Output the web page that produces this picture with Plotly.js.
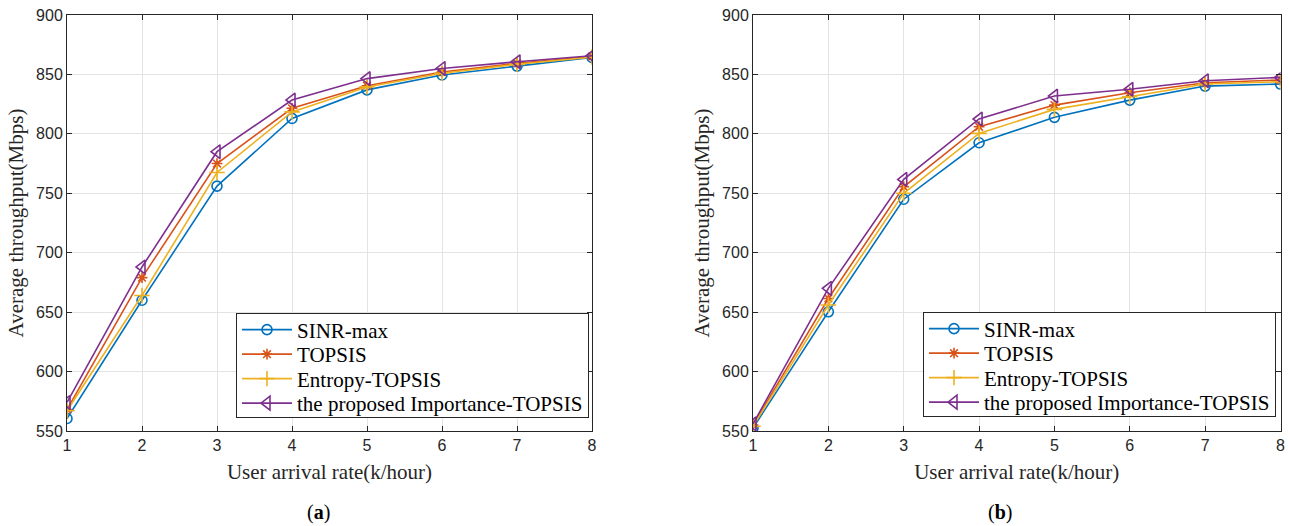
<!DOCTYPE html>
<html>
<head>
<meta charset="utf-8">
<script src="https://cdn.plot.ly/plotly-3.0.1.min.js"></script>
<style>html,body{margin:0;padding:0;background:#fff;}#chart{width:1290px;height:526px;}</style>
</head>
<body>
<div id="chart"></div>
<script>
const arrivalRate = [1, 2, 3, 4, 5, 6, 7, 8];
const seriesNames = ['SINR-max', 'TOPSIS', 'Entropy-TOPSIS', 'the proposed Importance-TOPSIS'];

// (a)
const sinrA       = [560.5, 660, 756, 813, 837, 849.5, 857, 864.3];
const topsisA     = [568, 679, 775, 821.5, 840.5, 852, 859.3, 865];
const entropyA    = [567, 664, 767.5, 818.5, 839.5, 851, 858.5, 864.6];
const importanceA = [574, 688, 785, 828.5, 846.5, 855, 860.7, 865.7];

// (b)
const sinrB       = [552.5, 650.3, 745, 792.5, 813.9, 828.4, 840.2, 841.9];
const topsisB     = [555, 661.5, 755.5, 806, 824.2, 834.6, 843, 845.3];
const entropyB    = [554, 656, 750, 800.4, 820.6, 831.2, 841.9, 843.9];
const importanceB = [556, 670, 761.7, 812.5, 831.8, 837.5, 844.7, 847.5];

const xTicks = [1, 2, 3, 4, 5, 6, 7, 8];
const yTicks = [550, 600, 650, 700, 750, 800, 850, 900];
const captions = ['(<b>a</b>)', '(<b>b</b>)'];
const xTitle = 'User arrival rate(k/hour)';
const yTitle = 'Average throughput(Mbps)';

const colors = ['#0072BD', '#D95319', '#EDB120', '#7E2F8E'];
const symbols = ['circle-open', 'asterisk-open', 'cross-thin-open', 'triangle-left-open'];
const sizes = [10, 9, 11, 12];

function mk(y, i, ax) {
  return {
    x: arrivalRate, y: y, name: seriesNames[i], type: 'scatter', mode: 'lines+markers',
    xaxis: ax === 1 ? 'x' : 'x2', yaxis: ax === 1 ? 'y' : 'y2',
    legend: ax === 1 ? 'legend' : 'legend2',
    line: {color: colors[i], width: 1.6},
    marker: {symbol: symbols[i], size: sizes[i], color: colors[i], line: {color: colors[i], width: 1.6}}
  };
}

const data = [
  mk(sinrA, 0, 1), mk(topsisA, 1, 1), mk(entropyA, 2, 1), mk(importanceA, 3, 1),
  mk(sinrB, 0, 2), mk(topsisB, 1, 2), mk(entropyB, 2, 2), mk(importanceB, 3, 2)
];

const serif = 'Liberation Serif, Times New Roman, serif';
const sans = 'Liberation Sans, Arial, sans-serif';

function xa(domain, anchor) {
  return {
    domain: domain, anchor: anchor, range: [1, 8], tickvals: xTicks, ticktext: xTicks.map(String),
    showgrid: true, gridcolor: '#e3e3e3', gridwidth: 1, zeroline: false,
    showline: true, linecolor: '#262626', linewidth: 1, mirror: 'ticks',
    ticks: 'inside', ticklen: 5, tickcolor: '#262626',
    tickfont: {family: sans, size: 16, color: '#262626'},
    title: {text: xTitle, font: {family: serif, size: 21, color: '#262626'}, standoff: 11}
  };
}
function ya(domain, anchor) {
  return {
    domain: domain, anchor: anchor, range: [550, 900], tickvals: yTicks, ticktext: yTicks.map(String),
    showgrid: true, gridcolor: '#e3e3e3', gridwidth: 1, zeroline: false,
    showline: true, linecolor: '#262626', linewidth: 1, mirror: 'ticks',
    ticks: 'inside', ticklen: 5, tickcolor: '#262626',
    tickfont: {family: sans, size: 16, color: '#262626'},
    title: {text: yTitle, font: {family: serif, size: 21, color: '#262626'}, standoff: 6}
  };
}

const W = 1290, H = 526;
const yDom = [1 - 431 / H, 1 - 15 / H];
const legendBase = {
  xanchor: 'left', yanchor: 'top', bgcolor: '#ffffff', bordercolor: '#262626', borderwidth: 1,
  font: {family: serif, size: 21, color: '#000'}, itemwidth: 50, tracegroupgap: 0
};

const layout = {
  width: W, height: H, margin: {l: 0, r: 0, t: 0, b: 0},
  paper_bgcolor: '#fff', plot_bgcolor: '#fff', showlegend: true,
  xaxis: xa([67 / W, 592 / W], 'y'),
  yaxis: ya(yDom, 'x'),
  xaxis2: xa([753 / W, 1280.5 / W], 'y2'),
  yaxis2: ya(yDom, 'x2'),
  legend: Object.assign({}, legendBase, {x: 236 / W, y: 1 - 312.5 / H}),
  legend2: Object.assign({}, legendBase, {x: 923 / W, y: 1 - 311.5 / H}),
  annotations: [
    {text: captions[0], xref: 'paper', yref: 'paper', x: 318 / W, y: 1 - 512 / H, xanchor: 'center', yanchor: 'middle', showarrow: false, font: {family: serif, size: 20, color: '#000'}},
    {text: captions[1], xref: 'paper', yref: 'paper', x: 1000 / W, y: 1 - 512 / H, xanchor: 'center', yanchor: 'middle', showarrow: false, font: {family: serif, size: 20, color: '#000'}}
  ]
};

// Tighten legend row spacing to match the reference (~24.5 px per entry)
function tightenLegends(gd) {
  const rowH = 24.5;
  gd.querySelectorAll('g.legend, g.legend2').forEach(function (lg) {
    const items = lg.querySelectorAll('g.traces');
    if (!items.length) return;
    const m0 = /translate\(\s*([-\d.]+)[ ,]+([-\d.]+)\s*\)/.exec(items[0].getAttribute('transform') || '');
    if (!m0) return;
    const x0 = parseFloat(m0[1]), y0 = parseFloat(m0[2]) - 4;
    items.forEach(function (it, i) {
      it.setAttribute('transform', 'translate(' + x0 + ',' + (y0 + i * rowH) + ')');
    });
    const bg = lg.querySelector('rect.bg');
    if (bg) bg.setAttribute('height', '104');
  });
}

Plotly.newPlot('chart', data, layout, {displayModeBar: false, staticPlot: true}).then(function (gd) {
  tightenLegends(gd);
});
</script>
</body>
</html>
